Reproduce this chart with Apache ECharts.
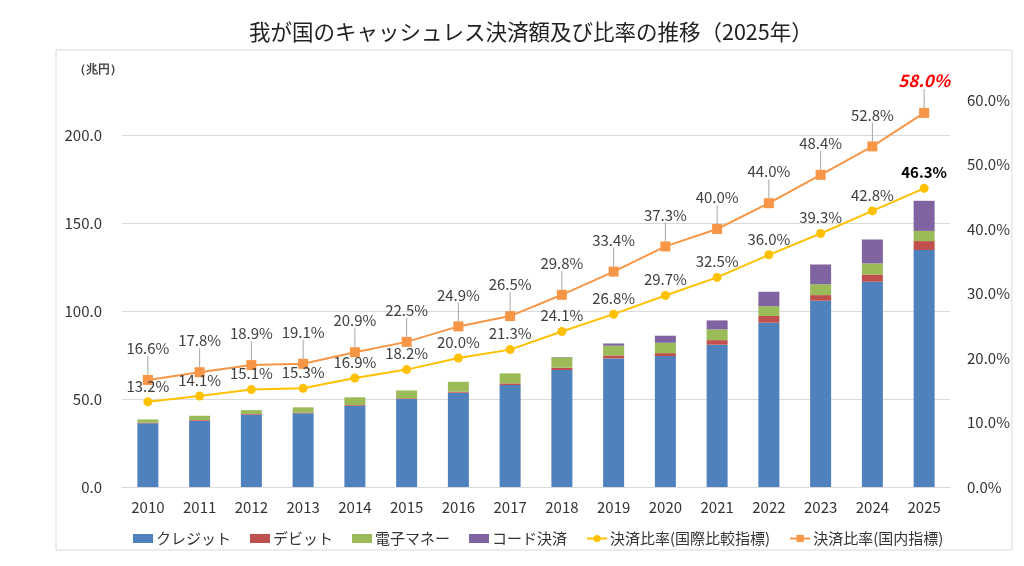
<!DOCTYPE html>
<html>
<head>
<meta charset="utf-8">
<script src="https://cdn.jsdelivr.net/npm/echarts@6/dist/echarts.min.js"></script>
<style>
    html, body { margin: 0; padding: 0; background: #fff; }
    #main { width: 1024px; height: 566px; }
</style>
</head>
<body>
<div id="main"></div>
<script>
    // 年
    var years = ['2010', '2011', '2012', '2013', '2014', '2015', '2016', '2017',
        '2018', '2019', '2020', '2021', '2022', '2023', '2024', '2025'];
    // 決済額（兆円）
    var credit = [36.2, 37.7, 41.1, 41.9, 46.2, 50.0, 53.6, 58.0, 66.5, 73.1, 74.4, 80.9, 93.4, 105.9, 116.7, 134.7];
    var debit = [0.4, 0.4, 0.4, 0.4, 0.4, 0.4, 0.6, 0.9, 1.3, 1.7, 1.7, 2.6, 3.8, 3.2, 4.1, 5.1];
    var emoney = [1.8, 2.4, 2.2, 3.0, 4.4, 4.5, 5.6, 5.7, 5.9, 5.5, 5.9, 6.1, 5.6, 6.2, 6.3, 5.8];
    var code = [0, 0, 0, 0, 0, 0, 0, 0, 0.2, 1.3, 4.0, 5.1, 8.2, 11.2, 13.6, 17.1];
    // 決済比率（%）
    var rateIntl = [13.2, 14.1, 15.1, 15.3, 16.9, 18.2, 20.0, 21.3, 24.1, 26.8, 29.7, 32.5, 36.0, 39.3, 42.8, 46.3];
    var rateDomestic = [16.6, 17.8, 18.9, 19.1, 20.9, 22.5, 24.9, 26.5, 29.8, 33.4, 37.3, 40.0, 44.0, 48.4, 52.8, 58.0];

    var chart = echarts.init(document.getElementById('main'));

    function pct(v) {
        return v.toFixed(1) + '%';
    }

    // 最後の点だけ強調
    var intlData = rateIntl.map(function (v, i) {
        if (i === rateIntl.length - 1) {
            return {value: v, label: {fontWeight: 'bold', color: '#000', fontSize: 15}};
        }
        return v;
    });
    var domData = rateDomestic.map(function (v, i) {
        if (i === rateDomestic.length - 1) {
            return {value: v, label: {fontWeight: 'bold', fontStyle: 'italic', color: '#ff0000', fontSize: 17, offset: [10, 6]}};
        }
        return v;
    });

    function barSeries(name, data, color) {
        return {
            name: name,
            type: 'bar',
            stack: 'amount',
            barWidth: 21,
            itemStyle: {color: color},
            data: data
        };
    }

    var option = {
        animation: false,
        textStyle: {fontFamily: '"Noto Sans CJK JP", "Noto Sans", sans-serif'},
        title: {
            text: '我が国のキャッシュレス決済額及び比率の推移（2025年）',
            left: 244,
            top: 16,
            textStyle: {fontSize: 21.5, fontWeight: 'normal', color: '#222'}
        },
        graphic: [
            {
                type: 'rect',
                shape: {x: 56, y: 50, width: 956, height: 500},
                style: {fill: 'none', stroke: '#d9d9d9', lineWidth: 1}
            },
            {
                type: 'text',
                left: 74,
                top: 64,
                style: {text: '（兆円）', fontSize: 12, fontWeight: 'bold', fill: '#404040'}
            }
        ],
        legend: {
            left: 128,
            top: 526,
            itemGap: 19,
            itemWidth: 20,
            itemHeight: 9,
            textStyle: {fontSize: 15, color: '#333', padding: [0, 0, 0, -2]},
            data: [
                {name: 'クレジット', icon: 'rect'},
                {name: 'デビット', icon: 'rect'},
                {name: '電子マネー', icon: 'rect'},
                {name: 'コード決済', icon: 'rect'},
                '決済比率(国際比較指標)',
                '決済比率(国内指標)'
            ]
        },
        grid: {left: 122, right: 74, top: 100, bottom: 79},
        xAxis: {
            type: 'category',
            data: years,
            axisTick: {show: false},
            axisLine: {lineStyle: {color: '#d9d9d9'}},
            axisLabel: {color: '#333', fontSize: 15, margin: 13}
        },
        yAxis: [
            {
                type: 'value',
                min: 0,
                max: 220,
                interval: 50,
                axisLabel: {
                    color: '#333', fontSize: 15, margin: 20, showMaxLabel: false,
                    formatter: function (v) { return v.toFixed(1); }
                },
                splitLine: {showMaxLine: false, lineStyle: {color: '#d9d9d9'}},
                axisLine: {show: false},
                axisTick: {show: false}
            },
            {
                type: 'value',
                min: 0,
                max: 60,
                interval: 10,
                axisLabel: {color: '#333', fontSize: 15, margin: 17, formatter: pct},
                splitLine: {show: false},
                axisLine: {show: false},
                axisTick: {show: false}
            }
        ],
        series: [
            barSeries('クレジット', credit, '#4f81bd'),
            barSeries('デビット', debit, '#c0504d'),
            barSeries('電子マネー', emoney, '#9bbb59'),
            barSeries('コード決済', code, '#8064a2'),
            {
                name: '決済比率(国際比較指標)',
                type: 'line',
                yAxisIndex: 1,
                symbol: 'circle',
                symbolSize: 9,
                lineStyle: {color: '#ffc000', width: 2},
                itemStyle: {color: '#ffc000'},
                label: {
                    show: true,
                    position: 'top',
                    distance: 4,
                    fontSize: 15,
                    color: '#404040',
                    formatter: function (p) { return pct(p.value); }
                },
                data: intlData
            },
            {
                name: '決済比率(国内指標)',
                type: 'line',
                yAxisIndex: 1,
                symbol: 'rect',
                symbolSize: 10,
                lineStyle: {color: '#f79646', width: 2},
                itemStyle: {color: '#f79646'},
                label: {
                    show: true,
                    position: 'top',
                    distance: 4,
                    fontSize: 15,
                    color: '#404040',
                    formatter: function (p) { return pct(p.value); }
                },
                labelLayout: {dy: -15},
                labelLine: {show: true, lineStyle: {color: '#a6a6a6', width: 1}},
                data: domData
            }
        ]
    };
    chart.setOption(option);
</script>
</body>
</html>
